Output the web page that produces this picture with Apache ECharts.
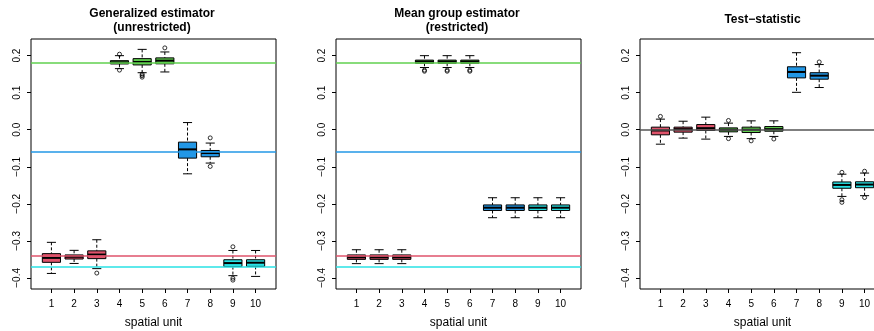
<!DOCTYPE html>
<html><head><meta charset="utf-8">
<script src="https://cdn.jsdelivr.net/npm/echarts@6/dist/echarts.min.js"></script>
<style>html,body{margin:0;padding:0;background:#fff}#c{width:874px;height:331px}</style>
</head><body><div id="c"></div>
<script>
// ---------- data ----------
const units = [1, 2, 3, 4, 5, 6, 7, 8, 9, 10];
const xTicks = [1, 2, 3, 4, 5, 6, 7, 8, 9, 10];
const yTicks = [-0.4, -0.3, -0.2, -0.1, 0.0, 0.1, 0.2];
const panelTitles = ["Generalized estimator\n(unrestricted)", "Mean group estimator\n(restricted)", "Test\u2212statistic"];
const xLabel = "spatial unit";

// box stats per unit: [lower whisker, Q1, median, Q3, upper whisker]
const genStats = [
  [-0.388, -0.358, -0.346, -0.3345, -0.304],
  [-0.361, -0.349, -0.343, -0.338, -0.3256],
  [-0.375, -0.348, -0.337, -0.327, -0.297],
  [0.165, 0.1776, 0.182, 0.1865, 0.200],
  [0.154, 0.175, 0.183, 0.192, 0.217],
  [0.156, 0.178, 0.1865, 0.194, 0.210],
  [-0.119, -0.0766, -0.053, -0.0334, 0.0194],
  [-0.090, -0.073, -0.063, -0.056, -0.036],
  [-0.394, -0.3695, -0.360, -0.351, -0.326],
  [-0.396, -0.369, -0.359, -0.351, -0.326]
];
const genOutliers = [[3, -0.387], [4, 0.204], [4, 0.161], [5, 0.150], [5, 0.146], [5, 0.142], [6, 0.221],
  [8, -0.022], [8, -0.099], [9, -0.316], [9, -0.401], [9, -0.406]];
const genRefs = [0.183, -0.0628, -0.344, -0.367];

const mgStats = [
  [-0.3615, -0.350, -0.3445, -0.338, -0.324],
  [-0.3615, -0.350, -0.3445, -0.338, -0.324],
  [-0.3615, -0.350, -0.3445, -0.338, -0.324],
  [0.168, 0.1795, 0.184, 0.188, 0.200],
  [0.168, 0.1795, 0.184, 0.188, 0.200],
  [0.168, 0.1795, 0.184, 0.188, 0.200],
  [-0.2375, -0.218, -0.2105, -0.203, -0.1836],
  [-0.2375, -0.218, -0.2105, -0.203, -0.1836],
  [-0.2375, -0.218, -0.2105, -0.203, -0.1836],
  [-0.2375, -0.218, -0.2105, -0.203, -0.1836]
];
const mgOutliers = [[4, 0.161], [4, 0.158], [5, 0.161], [5, 0.158], [6, 0.161], [6, 0.158]];
const mgRefs = [0.183, -0.0628, -0.345, -0.367];

const testStats = [
  [-0.039, -0.0137, -0.002, 0.007, 0.0286],
  [-0.0226, -0.0065, 0.0016, 0.007, 0.023],
  [-0.0253, -0.002, 0.0043, 0.014, 0.034],
  [-0.018, -0.0057, 0.0, 0.005, 0.0178],
  [-0.024, -0.0075, 0.0, 0.007, 0.024],
  [-0.018, -0.004, 0.0016, 0.0086, 0.024],
  [0.101, 0.140, 0.156, 0.170, 0.208],
  [0.114, 0.1365, 0.146, 0.154, 0.176],
  [-0.180, -0.158, -0.149, -0.141, -0.120],
  [-0.178, -0.1565, -0.148, -0.1405, -0.117]
];
const testOutliers = [[1, 0.036], [4, 0.025], [4, -0.024], [5, -0.030], [6, -0.025], [8, 0.183],
  [9, -0.115], [9, -0.189], [9, -0.196], [10, -0.112], [10, -0.183]];
const testRefs = [0];

// ---------- styles ----------
const unitColors = ['#DF536B', '#DF536B', '#DF536B', '#61D04F', '#61D04F', '#61D04F', '#2297E6', '#2297E6', '#28E2E5', '#28E2E5'];
const refColors = ['#61D04F', '#2297E6', '#DF536B', '#28E2E5'];
const zeroColor = '#555555';
const FONT = '"Liberation Sans", Arial, Helvetica, sans-serif';

const panels = [
  { stats: genStats, outliers: genOutliers, refs: genRefs, refCols: refColors, left: 31, cx: 152 },
  { stats: mgStats, outliers: mgOutliers, refs: mgRefs, refCols: refColors, left: 336, cx: 457 },
  { stats: testStats, outliers: testOutliers, refs: testRefs, refCols: [zeroColor], left: 640, cx: 762.5 }
];

function renderBox(params, api) {
  const x = api.value(0);
  const lo = api.coord([x, api.value(1)]);
  const q1 = api.coord([x, api.value(2)]);
  const md = api.coord([x, api.value(3)]);
  const q3 = api.coord([x, api.value(4)]);
  const hi = api.coord([x, api.value(5)]);
  const w = api.size([0.8, 0])[0];
  const half = w / 2, cap = w / 4;
  const cx = lo[0];
  const color = unitColors[params.dataIndex];
  const dash = { stroke: '#000', lineWidth: 1, lineDash: [3, 2] };
  const solid = { stroke: '#000', lineWidth: 1 };
  return {
    type: 'group',
    children: [
      { type: 'line', shape: { x1: cx, y1: hi[1], x2: cx, y2: q3[1] }, style: dash },
      { type: 'line', shape: { x1: cx, y1: q1[1], x2: cx, y2: lo[1] }, style: dash },
      { type: 'line', shape: { x1: cx - cap, y1: hi[1], x2: cx + cap, y2: hi[1] }, style: solid },
      { type: 'line', shape: { x1: cx - cap, y1: lo[1], x2: cx + cap, y2: lo[1] }, style: solid },
      { type: 'rect', shape: { x: cx - half, y: q3[1], width: w, height: q1[1] - q3[1] }, style: { fill: color, stroke: '#000', lineWidth: 1 } },
      { type: 'line', shape: { x1: cx - half, y1: md[1], x2: cx + half, y2: md[1] }, style: { stroke: '#000', lineWidth: 2 } }
    ]
  };
}

const fmt = v => (Math.round(v * 10) / 10).toFixed(1).replace('-', '\u2212');

const option = {
  animation: false,
  backgroundColor: '#fff',
  textStyle: { fontFamily: FONT },
  title: panels.map((p, i) => ({
    text: panelTitles[i], left: p.cx, top: i === 2 ? 13 : 7, textAlign: 'center', padding: 0,
    textStyle: { fontSize: 12, fontWeight: 'bold', color: '#000', lineHeight: 14, fontFamily: FONT }
  })),
  grid: panels.map(p => ({
    left: p.left, top: 39, width: 245, height: 250, show: true, borderColor: '#000', borderWidth: 1,
    backgroundColor: 'transparent', containLabel: false, outerBoundsMode: 'none'
  })),
  xAxis: panels.map((p, i) => ({
    type: 'value', gridIndex: i, min: 0.1, max: 10.9, position: 'bottom',
    splitLine: { show: false },
    axisLine: { show: false, onZero: false },
    axisTick: { show: true, length: 4, customValues: xTicks, lineStyle: { color: '#000', width: 1 } },
    axisLabel: { customValues: xTicks, margin: 10, fontSize: 10, color: '#000', fontFamily: FONT },
    name: xLabel, nameLocation: 'middle', nameGap: 28,
    nameTextStyle: { fontSize: 12, color: '#000', fontFamily: FONT }
  })),
  yAxis: panels.map((p, i) => ({
    type: 'value', gridIndex: i, min: -0.43, max: 0.245, position: 'left',
    splitLine: { show: false },
    axisLine: { show: false, onZero: false },
    axisTick: { show: true, length: 4, customValues: yTicks, lineStyle: { color: '#000', width: 1 } },
    axisLabel: { customValues: yTicks, rotate: 90, margin: 9, fontSize: 10, color: '#000', fontFamily: FONT, formatter: fmt }
  })),
  series: []
};

panels.forEach((p, i) => {
  option.series.push({
    type: 'line', xAxisIndex: i, yAxisIndex: i, data: [], z: 1, silent: true,
    markLine: {
      symbol: ['none', 'none'], silent: true, label: { show: false },
      data: p.refs.map((v, k) => ({ yAxis: v, lineStyle: { color: p.refCols[k], width: 1.5, type: 'solid' } }))
    }
  });
  option.series.push({
    type: 'custom', xAxisIndex: i, yAxisIndex: i, z: 2, clip: false,
    renderItem: renderBox,
    data: p.stats.map((s, k) => [units[k], s[0], s[1], s[2], s[3], s[4]])
  });
  option.series.push({
    type: 'scatter', xAxisIndex: i, yAxisIndex: i, z: 3,
    symbol: 'circle', symbolSize: 4,
    itemStyle: { color: 'rgba(0,0,0,0)', borderColor: '#000', borderWidth: 1 },
    data: p.outliers
  });
});

const chart = echarts.init(document.getElementById('c'), null, { renderer: 'canvas' });
chart.setOption(option);
</script>
</body></html>
